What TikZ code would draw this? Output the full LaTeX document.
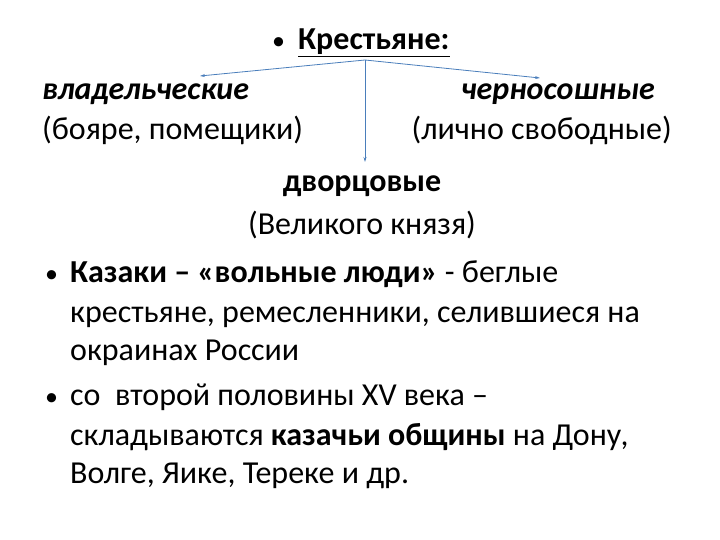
\documentclass[tikz,border=0pt]{standalone}
\usepackage{fontspec}
\setmainfont{Carlito}
\usetikzlibrary{arrows.meta}
\definecolor{arrc}{HTML}{4A7EBB}
\begin{document}
\begin{tikzpicture}[x=1pt,y=-1pt,
  txt/.style={anchor=base west,inner sep=0pt,font=\fontsize{32}{36}\selectfont},
  bul/.style={anchor=base west,inner sep=0pt,font=\fontsize{26}{30}\selectfont},
  txtr/.style={txt,anchor=base east},
  txtc/.style={txt,anchor=base},
  arr/.style={draw=arrc,line width=0.8pt,-{Stealth[length=5pt,width=3pt]}}]
\useasboundingbox (0,0) rectangle (720,540);
\node[bul] (b0) at (272,50) {•};
\node[txt] (k) at (298,50) {\textbf{\underline{Крестьяне:}}};
\node[txt] (vl) at (42,100) {\textbf{\textit{владельческие}}};
\node[txtr] (ch) at (655,100) {\textbf{\textit{черносошные}}};
\node[txt] (bo) at (42,140) {(бояре, помещики)};
\node[txtr] (li) at (672,140) {(лично свободные)};
\node[txtc] (dv) at (362,192) {\textbf{дворцовые}};
\node[txtc] (vk) at (362,235) {(Великого князя)};
\node[bul] (b1) at (45,282) {•};
\node[txt] (kz) at (70,282) {\textbf{Казаки – «вольные люди»} - беглые};
\node[txt] (l2) at (70,322) {крестьяне, ремесленники, селившиеся на};
\node[txt] (l3) at (70,360) {окраинах России};
\node[bul] (b2) at (45,405) {•};
\node[txt] (l4) at (70,405) {со\ \ второй половины XV века –};
\node[txt] (l5) at (70,445) {складываются \textbf{казачьи общины} на Дону,};
\node[txt] (l6) at (70,483) {Волге, Яике, Тереке и др.};
\coordinate (o) at (365,60);
\coordinate (tl) at (200,76);
\coordinate (tr) at (540,78);
\coordinate (td) at (365,162);
\draw[arr] (o) -- (tl);
\draw[arr] (o) -- (tr);
\draw[arr] (o) -- (td);
\end{tikzpicture}
\end{document}
